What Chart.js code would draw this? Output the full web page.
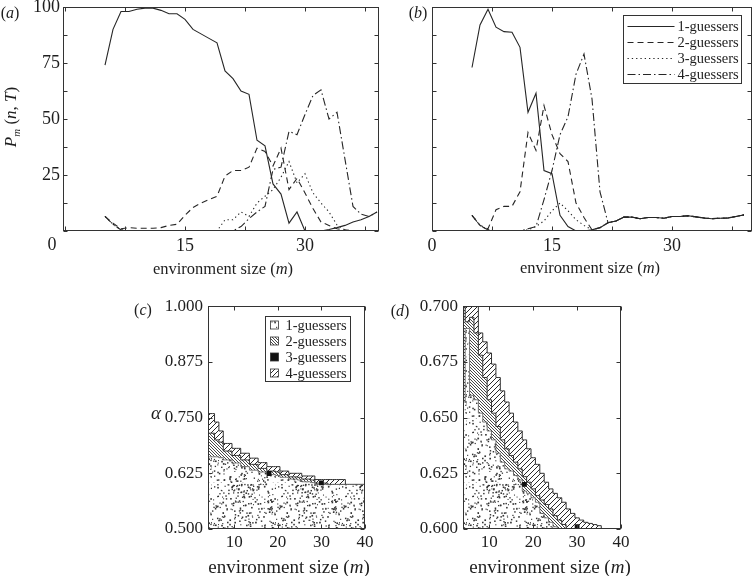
<!DOCTYPE html>
<html>
<head>
<meta charset="utf-8">
<script src="https://cdn.jsdelivr.net/npm/chart.js@4.4.1/dist/chart.umd.min.js"></script>
<style>
html, body { margin: 0; padding: 0; background: #fff; }
#fig { position: relative; width: 753px; height: 576px; overflow: hidden;
  font-family: "Liberation Serif", "Times New Roman", serif; color: #1e1e1e; }
canvas { position: absolute; }
.lab { position: absolute; transform: translate(-50%, -50%); white-space: nowrap; line-height: 1; }
</style>
</head>
<body>
<div id="fig">
  <canvas id="pa"></canvas>
  <canvas id="pb"></canvas>
  <canvas id="pc"></canvas>
  <canvas id="pd"></canvas>

  <div class="lab" style="left:10px;top:13px;font-size:16px">(<i>a</i>)</div>
  <div class="lab" style="left:418px;top:13px;font-size:16px">(<i>b</i>)</div>
  <div class="lab" style="left:143px;top:310px;font-size:16px">(<i>c</i>)</div>
  <div class="lab" style="left:400px;top:311px;font-size:16px">(<i>d</i>)</div>

  <div class="lab" style="left:52px;top:244px;font-size:18px">0</div>
  <div class="lab" style="left:12px;top:117px;font-size:17px;transform:translate(-50%,-50%) rotate(-90deg)"><i>P</i><sub style="font-size:11px"><i>m</i></sub> (<i>n</i>, <i>T</i>)</div>
  <div class="lab" style="left:156px;top:412px;font-size:19px"><i>α</i></div>

  <div class="lab" style="left:223px;top:269px;font-size:16.5px">environment size (<i>m</i>)</div>
  <div class="lab" style="left:590px;top:268px;font-size:16.5px">environment size (<i>m</i>)</div>
  <div class="lab" style="left:289px;top:566px;font-size:19px">environment size (<i>m</i>)</div>
  <div class="lab" style="left:550px;top:566px;font-size:19px">environment size (<i>m</i>)</div>
</div>

<script>
// top panels: P_m(n,T) against environment size
const sizesTop = [5, 6, 7, 8, 9, 10, 11, 12, 13, 14, 15, 16, 17, 18, 19, 20, 21, 22,
  23, 24, 25, 26, 27, 28, 29, 30, 31, 32, 33, 34, 35, 36, 37, 38, 39];

const aOne = [74, 90, 98, 98, 99, 99.5, 99.5, 98.5, 97, 97, 94.5, 90, 88, 86, 84, 71.5, 68, 62.5,
  61, 40.5, 38, 21, 16.5, 3.5, 8.5, 0, 0, 0, 0.7, 1.5, 2.5, 4, 5, 6.5, 8.5];
const aTwo = [6.5, 3.5, 1, 1.5, 1.2, 1.2, 1.2, 1.5, 2.5, 3, 7, 10.5, 12.5, 14, 15.5, 24.5, 27, 27,
  28.5, 37, 35.5, 29, 37, 18.5, 23.5, 17, 10, 4, 2.5, 1, 0.5, 0, 0, 0, 0];
const aThree = [6.5, 3, 0.5, 0, 0, 0, 0, 0, 0, 0, 0, 0, 0, 0, 0, 5, 5, 8.5,
  6.5, 12.5, 15.5, 18.5, 24, 31, 21.5, 25.5, 17, 12.5, 8.5, 2.7, 0.5, 0, 0, 0, 0];
const aFour = [6.5, 3, 0.5, 0, 0, 0, 0, 0, 0, 0, 0, 0, 0, 0, 0, 0, 0, 2,
  5.5, 8.5, 11, 27.5, 28.5, 44.5, 43, 52, 60.5, 63, 50, 53, 32, 11, 7.5, 6.5, 8.5];

const bOne = [73, 92, 99, 91, 89, 88.7, 82, 53, 61.5, 27, 25.6, 7, 2, 0, 0, 0.5, 1.5, 3.7,
  4.5, 6.2, 6.2, 5.5, 6, 6, 5.7, 6.5, 6.5, 6.8, 6.3, 5.8, 5.5, 5.7, 5.8, 6.5, 7.2];
const bTwo = [7, 2.5, 1, 9.5, 11, 11, 17.5, 44, 36, 56, 43, 34.5, 31, 12.5, 6, 0.5, 1.5, 3.7,
  4.5, 6.2, 6.2, 5.5, 6, 6, 5.7, 6.5, 6.5, 6.8, 6.3, 5.8, 5.5, 5.7, 5.8, 6.5, 7.2];
const bThree = [7, 2.5, 0.5, 0, 0, 0, 0, 0.5, 2, 4.5, 9, 12.5, 9, 5, 2.5, 0.5, 1.5, 3.7,
  4.5, 6.2, 6.2, 5.5, 6, 6, 5.7, 6.5, 6.5, 6.8, 6.3, 5.8, 5.5, 5.7, 5.8, 6.5, 7.2];
const bFour = [7, 2.5, 0.5, 0, 0, 0, 0, 1, 2, 14, 27, 43, 51, 70, 79, 59, 17.5, 3.7,
  4.5, 6.2, 6.2, 5.5, 6, 6, 5.7, 6.5, 6.5, 6.8, 6.3, 5.8, 5.5, 5.7, 5.8, 6.5, 7.2];

const topXTicks = [0, 7.5, 15, 22.5, 30, 37.5];
const topYTicks = [0, 12.5, 25, 37.5, 50, 62.5, 75, 87.5, 100];

// bottom panels: which guesser type wins, per environment size and alpha
// each array is the upper alpha edge of a band
const sizesGrid = [4, 5, 6, 7, 8, 9, 10, 11, 12, 13, 14, 15, 16, 17, 18, 19, 20, 21, 22,
  23, 24, 25, 26, 27, 28, 29, 30, 31, 32, 33, 34, 35, 36, 37, 38, 39, 40];

const cOne = [.662, .662, .662, .660, .655, .655, .648, .648, .640, .640, .632, .632, .628, .628, .622, .622, .620, .616, .616,
  .612, .612, .610, .606, .606, .604, .600, .600, .600, .600, .600, .600, .600, .600, .600, .600, .600, .600];
const cTwo = [.715, .715, .700, .695, .675, .675, .665, .665, .655, .655, .645, .645, .636, .636, .630, .630, .628, .622, .622,
  .617, .617, .616, .612, .612, .610, .603, .603, .603, .600, .600, .600, .600, .600, .600, .600, .600, .600];
const cFour = [.759, .759, .740, .720, .692, .692, .681, .681, .670, .670, .659, .659, .649, .649, .640, .640, .640, .630, .630,
  .625, .625, .625, .619, .619, .619, .611, .611, .611, .611, .611, .611, .611, .600, .600, .600, .600, .600];
const cThreeX = [18, 30];
const cThreeY = [0.6245, 0.6035];

const dOne = [.657, .690, .660, .658, .652, .648, .644, .640, .634, .630, .627, .626, .624, .622, .617, .616, .614, .612, .607,
  .605, .603, .601, .600, .600, .600, .600, .600, .600, .600, .600, .600, .600, .600, .600, .600, .600, .600];
const dTwo = [.700, .693, .695, .688, .678, .668, .658, .652, .646, .640, .636, .633, .630, .627, .6235, .621, .618, .615, .613,
  .611, .609, .606, .604, .602, .600, .600, .600, .600, .600, .600, .600, .600, .600, .600, .600, .600, .600];
const dFour = [.700, .700, .700, .700, .688, .684, .679, .674, .668, .662, .657, .652, .648, .644, .640, .636, .632, .629, .625,
  .621, .618, .616, .614, .612, .609, .607, .605, .604, .603, .6025, .602, .6015, .600, .600, .600, .600, .600];
const dThreeX = [18, 30];
const dThreeY = [0.620, 0.601];

const gridXTicks = [10, 20, 30, 40];
const cYTicks = [0.5, 0.625, 0.75, 0.875, 1.0];
const dYTicks = [0.6, 0.625, 0.65, 0.675, 0.7];

const INK = '#1e1e1e';
const LINE = '#262626';
const SERIF = '"Liberation Serif", "Times New Roman", serif';

// fill textures
function tile(size, draw) {
  const c = document.createElement('canvas');
  c.width = c.height = size;
  const g = c.getContext('2d');
  g.fillStyle = '#fff';
  g.fillRect(0, 0, size, size);
  draw(g, size);
  return document.createElement('canvas').getContext('2d').createPattern(c, 'repeat');
}
const frac = v => v - Math.floor(v);
const stipple = tile(64, (g, s) => {
  g.fillStyle = '#333';
  for (let i = 1; i <= 330; i++) {
    const px = frac(Math.sin(i * 12.9898) * 43758.5453) * s;
    const py = frac(Math.sin(i * 78.233) * 24634.6345) * s;
    const r = 1 + frac(Math.sin(i * 3.7) * 9173.1) * 0.7;
    g.fillRect(px, py, r, r);
  }
});
const fineHatch = tile(3, (g) => {
  g.strokeStyle = '#333';
  g.lineWidth = 0.9;
  g.beginPath();
  g.moveTo(-1, -1); g.lineTo(4, 4);
  g.moveTo(2, -1); g.lineTo(4, 1);
  g.moveTo(-1, 2); g.lineTo(1, 4);
  g.stroke();
});
const wideHatch = tile(5, (g) => {
  g.strokeStyle = '#2a2a2a';
  g.lineWidth = 1;
  g.beginPath();
  g.moveTo(-1, 6); g.lineTo(6, -1);
  g.moveTo(-1, 1); g.lineTo(1, -1);
  g.moveTo(4, 6); g.lineTo(6, 4);
  g.stroke();
});

// box round the plot with inward tick marks on all four sides
const boxTicks = {
  id: 'boxTicks',
  afterDraw(chart) {
    const { ctx, chartArea: a, scales: { x, y } } = chart;
    const L = Math.round(a.left) + 0.5, R = Math.round(a.right) - 0.5;
    const T = Math.round(a.top) + 0.5, B = Math.round(a.bottom) - 0.5;
    const len = 4;
    ctx.save();
    ctx.strokeStyle = '#333';
    ctx.lineWidth = 1;
    ctx.strokeRect(L, T, R - L, B - T);
    ctx.beginPath();
    x.ticks.forEach(t => {
      const px = Math.round(x.getPixelForValue(t.value)) + 0.5;
      ctx.moveTo(px, B); ctx.lineTo(px, B - len);
      ctx.moveTo(px, T); ctx.lineTo(px, T + len);
    });
    y.ticks.forEach(t => {
      const py = Math.round(y.getPixelForValue(t.value)) + 0.5;
      ctx.moveTo(L, py); ctx.lineTo(L + len, py);
      ctx.moveTo(R, py); ctx.lineTo(R - len, py);
    });
    ctx.stroke();
    ctx.restore();
  }
};

// boxed legend inside the plot area, read from the datasets
const boxLegend = {
  id: 'boxLegend',
  afterDraw(chart, args, o) {
    if (!o.show) return;
    const { ctx, chartArea: a } = chart;
    const x0 = Math.round(a.right - o.right - o.width) + 0.5;
    const y0 = Math.round(a.top + o.top) + 0.5;
    ctx.save();
    ctx.fillStyle = '#fff';
    ctx.fillRect(x0, y0, o.width, o.height);
    ctx.strokeStyle = '#333';
    ctx.lineWidth = 1;
    ctx.strokeRect(x0, y0, o.width, o.height);
    ctx.font = o.font;
    ctx.textBaseline = 'middle';
    const sets = chart.data.datasets.filter(d => d.label)
      .sort((p, q) => p.label.localeCompare(q.label));
    sets.forEach((d, i) => {
      const yy = Math.round(y0 + o.first + i * o.gap);
      if (o.kind === 'line') {
        ctx.strokeStyle = d.borderColor;
        ctx.lineWidth = d.borderWidth;
        ctx.setLineDash(d.borderDash || []);
        ctx.beginPath();
        ctx.moveTo(x0 + o.s0, yy + 0.5);
        ctx.lineTo(x0 + o.s1, yy + 0.5);
        ctx.stroke();
        ctx.setLineDash([]);
      } else {
        ctx.fillStyle = d.backgroundColor;
        ctx.fillRect(x0 + o.s0, yy - 4, 8, 8);
        ctx.strokeStyle = '#333';
        ctx.lineWidth = 0.8;
        ctx.strokeRect(x0 + o.s0, yy - 4, 8, 8);
      }
      ctx.fillStyle = INK;
      ctx.fillText(d.label, x0 + o.tx, yy + 1);
    });
    ctx.restore();
  }
};

const PAD = { l: 60, t: 14, r: 14, b: 30 };
const NOGRID = { display: false, drawTicks: false, tickLength: 0 };

function makeChart(id, area, conf) {
  const cv = document.getElementById(id);
  const w = area.r - area.l + PAD.l + PAD.r;
  const h = area.b - area.t + PAD.t + PAD.b;
  cv.width = w; cv.height = h;
  cv.style.left = (area.l - PAD.l) + 'px';
  cv.style.top = (area.t - PAD.t) + 'px';
  cv.style.width = w + 'px';
  cv.style.height = h + 'px';
  return new Chart(cv, {
    type: 'line',
    data: { datasets: conf.datasets },
    options: {
      responsive: false,
      animation: false,
      events: [],
      layout: { padding: { left: 0, top: PAD.t, right: PAD.r, bottom: 0 } },
      scales: {
        x: {
          type: 'linear', min: conf.xMin, max: conf.xMax,
          grid: NOGRID, border: { display: false },
          afterBuildTicks: s => { s.ticks = conf.xTicks.map(v => ({ value: v })); },
          afterFit: s => { s.height = PAD.b; },
          ticks: { autoSkip: false, maxRotation: 0, padding: conf.xPad, color: INK,
            font: { family: SERIF, size: conf.tickSize }, callback: conf.xLabel }
        },
        y: {
          type: 'linear', min: conf.yMin, max: conf.yMax,
          grid: NOGRID, border: { display: false },
          afterBuildTicks: s => { s.ticks = conf.yTicks.map(v => ({ value: v })); },
          afterFit: s => { s.width = PAD.l; },
          ticks: { autoSkip: false, padding: conf.yPad, color: INK,
            font: { family: SERIF, size: conf.tickSize }, callback: conf.yLabel }
        }
      },
      plugins: {
        legend: { display: false },
        tooltip: { enabled: false },
        boxLegend: conf.legend || { show: false }
      }
    },
    plugins: [boxTicks, boxLegend]
  });
}

function curve(label, xs, ys, dash) {
  return {
    label: label,
    data: xs.map((m, i) => ({ x: m, y: ys[i] })),
    borderColor: LINE, borderWidth: 1.1, borderDash: dash,
    pointRadius: 0, tension: 0, fill: false
  };
}

const DASH = [6, 4], DOT = [1.3, 3], DASHDOT = [8, 3, 1.5, 3];

function curves(one, two, three, four) {
  return [
    curve('1-guessers', sizesTop, one, []),
    curve('2-guessers', sizesTop, two, DASH),
    curve('3-guessers', sizesTop, three, DOT),
    curve('4-guessers', sizesTop, four, DASHDOT)
  ];
}

const lineLegend = { show: true, kind: 'line', right: 11, top: 8, width: 118, height: 68,
  first: 10, gap: 16.1, s0: 4, s1: 51, tx: 54, font: '14.5px ' + SERIF };

makeChart('pa', { l: 63, t: 7, r: 379, b: 231 }, {
  datasets: curves(aOne, aTwo, aThree, aFour),
  xMin: -0.25, xMax: 39.25, xTicks: topXTicks,
  xLabel: v => (v % 15 === 0 && v > 0 ? String(v) : ''),
  yMin: 0, yMax: 100, yTicks: topYTicks,
  yLabel: v => (v % 25 === 0 && v > 0 ? String(v) : ''),
  xPad: 4, yPad: 3, tickSize: 18
});

makeChart('pb', { l: 432, t: 7, r: 752, b: 231 }, {
  datasets: curves(bOne, bTwo, bThree, bFour),
  xMin: 0, xMax: 40, xTicks: topXTicks,
  xLabel: v => (v % 15 === 0 ? String(v) : ''),
  yMin: 0, yMax: 100, yTicks: topYTicks,
  yLabel: () => '',
  xPad: 4, yPad: 3, tickSize: 18,
  legend: lineLegend
});

function band(label, ys, fill, bg, edge, width) {
  return {
    label: label,
    data: sizesGrid.map((m, i) => ({ x: m, y: ys[i] })),
    stepped: 'middle', fill: fill, backgroundColor: bg,
    borderColor: edge, borderWidth: width, pointRadius: 0
  };
}

function regions(one, two, four, bx, by) {
  return [
    {
      label: '3-guessers',
      data: bx.map((m, i) => ({ x: m, y: by[i] })),
      showLine: false, pointStyle: 'rect', pointRadius: 3.4,
      backgroundColor: '#111', borderColor: '#111', borderWidth: 0
    },
    band('1-guessers', one, 'start', stipple, '#555', 0.8),
    band('2-guessers', two, 1, fineHatch, '#333', 1),
    band('4-guessers', four, 2, wideHatch, '#333', 1)
  ];
}

makeChart('pc', { l: 208, t: 305, r: 365, b: 529 }, {
  datasets: regions(cOne, cTwo, cFour, cThreeX, cThreeY),
  xMin: 4, xMax: 40, xTicks: gridXTicks, xLabel: v => String(v),
  yMin: 0.5, yMax: 1.0, yTicks: cYTicks, yLabel: v => v.toFixed(3),
  xPad: 3, yPad: 5, tickSize: 17,
  legend: { show: true, kind: 'box', right: 15, top: 10, width: 85, height: 65,
    first: 8.3, gap: 16.1, s0: 5, tx: 20, font: '14.5px ' + SERIF }
});

makeChart('pd', { l: 463, t: 305, r: 621, b: 529 }, {
  datasets: regions(dOne, dTwo, dFour, dThreeX, dThreeY),
  xMin: 4, xMax: 40, xTicks: gridXTicks, xLabel: v => String(v),
  yMin: 0.6, yMax: 0.7, yTicks: dYTicks, yLabel: v => v.toFixed(3),
  xPad: 3, yPad: 5, tickSize: 17
});
</script>
</body>
</html>
